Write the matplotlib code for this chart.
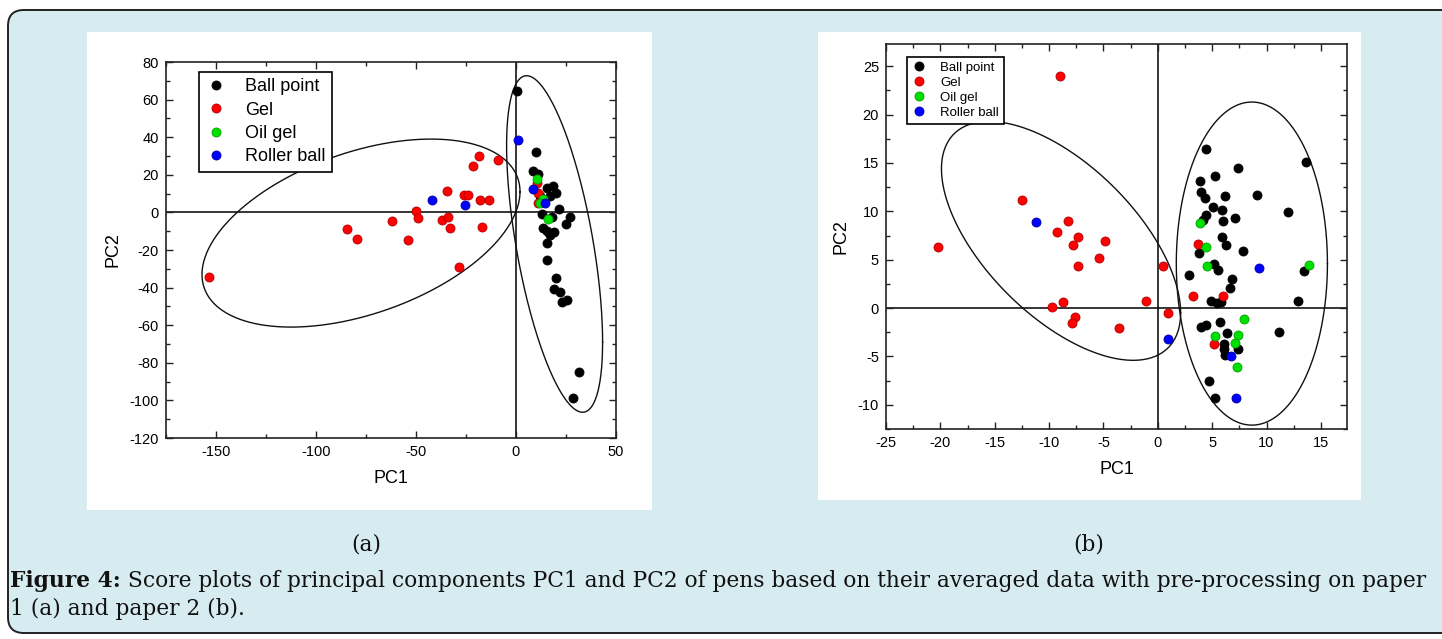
import numpy as np
import matplotlib
matplotlib.use("Agg")
import matplotlib.pyplot as plt
from matplotlib.patches import FancyBboxPatch, Rectangle
from matplotlib.ticker import MultipleLocator

W, H = 1442, 639

categories = ["Ball point", "Gel", "Oil gel", "Roller ball"]
colors = ["#000000", "#ff0000", "#00e000", "#0000ff"]
edges = ["#000000", "#b00000", "#00a000", "#0000a0"]

# panel (a) - paper 1
ball_a_x = [0.3, 10, 8.7, 11.2, 15.3, 18.7, 20, 17, 12, 21.7, 27, 25, 12.8, 17.8, 13.7,
            15.7, 19.2, 17, 15.7, 15.7, 20, 19.2, 22, 22.8, 25.7, 31.5, 28.3]
ball_a_y = [64.7, 32, 21.9, 20.2, 13.1, 14, 10.1, 8.6, 8.6, 1.6, -2.5, -6, -1.1, -2.3, -8.5,
            -9.9, -10.4, -12.2, -16.1, -25.3, -34.7, -40.5, -42.6, -47.6, -46.5, -84.7, -98.8]
gel_a_x = [-153.3, -84.7, -79.7, -62.2, -53.8, -50, -49.2, -36.8, -33.8, -33, -34.7, -28.5,
           -26, -24.2, -21.3, -18.5, -18, -13.3, -17.2, -8.8, 10.3, 10.8, 11.2]
gel_a_y = [-34.6, -8.7, -14, -4.6, -14.9, 0.7, -2.8, -4.1, -2.3, -8.1, 11.3, -28.8,
           9.2, 9.5, 24.6, 30.2, 6.5, 6.5, -7.6, 28.1, 15.8, 10.5, 5.1]
oil_a_x = [10.7, 13.3, 12, 15.8]
oil_a_y = [17.9, 6.9, 4.8, -3.3]
roller_a_x = [-41.8, -25.5, 0.8, 8.7, 14.5]
roller_a_y = [6.4, 3.9, 38.4, 12.7, 4.8]

# panel (b) - paper 2
ball_b_x = [4.4, 7.4, 13.6, 5.3, 3.9, 4.0, 4.3, 6.2, 9.1, 5.1, 5.9, 4.4, 4.2, 7.1, 6.0, 12.0,
            5.9, 6.3, 7.8, 3.8, 5.2, 5.5, 2.9, 13.4, 6.8, 6.6, 4.9, 5.4, 5.8, 12.9, 4.0, 4.4,
            5.7, 6.4, 11.1, 6.1, 6.1, 7.4, 6.2, 4.7, 5.3]
ball_b_y = [16.4, 14.5, 15.1, 13.7, 13.1, 12.0, 11.4, 11.6, 11.7, 10.5, 10.1, 9.6, 9.1, 9.3, 9.0, 9.9,
            7.4, 6.5, 5.9, 5.7, 4.6, 3.9, 3.4, 3.8, 3.0, 2.1, 0.7, 0.5, 0.6, 0.7, -2.0, -1.8,
            -1.4, -2.6, -2.5, -3.7, -4.2, -4.2, -4.9, -7.5, -9.3]
gel_b_x = [-9.0, -20.2, -12.5, -8.3, -9.3, -7.3, -7.8, -4.9, -5.4, -7.3, -9.7, -8.7, -7.6,
           -7.9, -3.6, -1.1, 0.5, 0.9, 3.2, 3.7, 6.0, 5.2]
gel_b_y = [24.0, 6.3, 11.2, 9.0, 7.9, 7.3, 6.5, 6.9, 5.2, 4.3, 0.1, 0.6, -0.9,
           -1.5, -2.1, 0.7, 4.3, -0.5, 1.2, 6.6, 1.3, -3.7]
oil_b_x = [3.9, 4.4, 4.5, 13.9, 7.9, 5.3, 7.4, 7.1, 7.3]
oil_b_y = [8.8, 6.3, 4.3, 4.5, -1.1, -2.9, -2.8, -3.6, -6.1]
roller_b_x = [-11.2, 0.9, 9.3, 6.7, 7.2]
roller_b_y = [8.9, -3.2, 4.1, -5.0, -9.3]

# group ellipses: centre x, centre y, half width, half height, phase
ellipses_a = [(-77.5, -11, 79.5, 50, 1.115), (19.3, -16.8, 24, 89.5, 2.193)]
ellipses_b = [(-8.9, 6.95, 11, 12.35, 2.218), (8.65, 4.6, 6.95, 16.7, 1.571)]

plt.rcParams['font.family'] = ['Liberation Sans', 'DejaVu Sans']
plt.rcParams['axes.unicode_minus'] = False

fig = plt.figure(figsize=(W / 100, H / 100), dpi=100, facecolor="white")


def px_rect(x0, y0, x1, y1):
    return [x0 / W, 1 - y1 / H, (x1 - x0) / W, (y1 - y0) / H]


# light blue frame with rounded corners
fig.add_artist(FancyBboxPatch((8 / W, 1 - 633 / H), 1480 / W, 623 / H,
                              boxstyle="round,pad=0,rounding_size=0.011",
                              transform=fig.transFigure, facecolor="#d7ecf1",
                              edgecolor="#222222", lw=1.4, mutation_aspect=W / H,
                              zorder=-10))
# white panels behind each plot
for r in [(87, 32, 652, 510), (818, 32, 1361, 500)]:
    b = px_rect(*r)
    fig.add_artist(Rectangle((b[0], b[1]), b[2], b[3], transform=fig.transFigure,
                             facecolor="white", edgecolor="none", zorder=-9))


def draw_panel(ax, series, ellipses, xlim, ylim, xmaj, ymaj, leg_anchor, leg_size,
               leg_space, msize):
    ax.axhline(0, color="black", lw=1.1, zorder=1)
    ax.axvline(0, color="black", lw=1.1, zorder=1)
    t = np.linspace(0, 2 * np.pi, 400)
    for cx, cy, a, b, d in ellipses:
        ax.plot(cx + a * np.cos(t), cy + b * np.cos(t - d), color="#111111", lw=1.0, zorder=2)
    for (xs, ys), lab, c, e in zip(series, categories, colors, edges):
        ax.plot(xs, ys, "o", ls="none", color=c, mec=e, mew=0.6, ms=msize, label=lab, zorder=3)
    ax.set_xlim(*xlim)
    ax.set_ylim(*ylim)
    ax.xaxis.set_major_locator(MultipleLocator(xmaj))
    ax.xaxis.set_minor_locator(MultipleLocator(xmaj / 2))
    ax.yaxis.set_major_locator(MultipleLocator(ymaj))
    ax.yaxis.set_minor_locator(MultipleLocator(ymaj / 2))
    ax.tick_params(which="both", direction="in", top=True, right=True, width=1,
                   labelsize=10.5, pad=5, color="#222222")
    ax.tick_params(which="major", length=5)
    ax.tick_params(which="minor", length=3)
    for s in ax.spines.values():
        s.set_linewidth(1.2)
        s.set_color("#222222")
    ax.set_xlabel("PC1", fontsize=13, labelpad=8)
    ax.set_ylabel("PC2", fontsize=13, labelpad=6)
    leg = ax.legend(loc="upper left", bbox_to_anchor=leg_anchor, borderaxespad=0,
                    fancybox=False, framealpha=1, edgecolor="black", fontsize=leg_size,
                    handletextpad=1.0, borderpad=0.35, labelspacing=leg_space,
                    handlelength=1.2)
    leg.get_frame().set_linewidth(1.2)


ax_a = fig.add_axes(px_rect(166, 62, 616, 438))
draw_panel(ax_a,
           [(ball_a_x, ball_a_y), (gel_a_x, gel_a_y), (oil_a_x, oil_a_y), (roller_a_x, roller_a_y)],
           ellipses_a, (-175, 50), (-120, 80), 50, 20, (0.073, 0.973), 13, 0.35, 6.5)
ax_a.set_yticks(np.arange(-120, 81, 20))

ax_b = fig.add_axes(px_rect(886, 44, 1347, 429))
draw_panel(ax_b,
           [(ball_b_x, ball_b_y), (gel_b_x, gel_b_y), (oil_b_x, oil_b_y), (roller_b_x, roller_b_y)],
           ellipses_b, (-25, 17.4), (-12.5, 27.3), 5, 5, (0.045, 0.967), 9.5, 0.22, 6.5)

# caption
cap_font = "DejaVu Serif"
fs = 14
renderer = fig.canvas.get_renderer()
bold = "Figure 4:"
rest = " Score plots of principal components PC1 and PC2 of pens based on their averaged data with pre-processing on paper"
t1 = fig.text(10 / W, 1 - 587 / H, bold, fontsize=fs, family=cap_font, weight="bold",
              va="baseline", ha="left", color="#111111")
w1 = t1.get_window_extent(renderer).width
t2 = fig.text(0, 1 - 587 / H, rest, fontsize=fs, family=cap_font, va="baseline",
              ha="left", color="#111111")
w2 = t2.get_window_extent(renderer).width
fs = fs * 1420 / (w1 + w2)
t1.set_fontsize(fs)
t2.set_fontsize(fs)
w1 = t1.get_window_extent(renderer).width
t2.set_x((10 + w1) / W)
fig.text(10 / W, 1 - 615 / H, "1 (a) and paper 2 (b).", fontsize=fs, family=cap_font,
         va="baseline", ha="left", color="#111111")
fig.text(366 / W, 1 - 545 / H, "(a)", fontsize=fs, family=cap_font, va="center",
         ha="center", color="#111111")
fig.text(1089 / W, 1 - 545 / H, "(b)", fontsize=fs, family=cap_font, va="center",
         ha="center", color="#111111")

fig.savefig("out.png", dpi=100, facecolor="white")
